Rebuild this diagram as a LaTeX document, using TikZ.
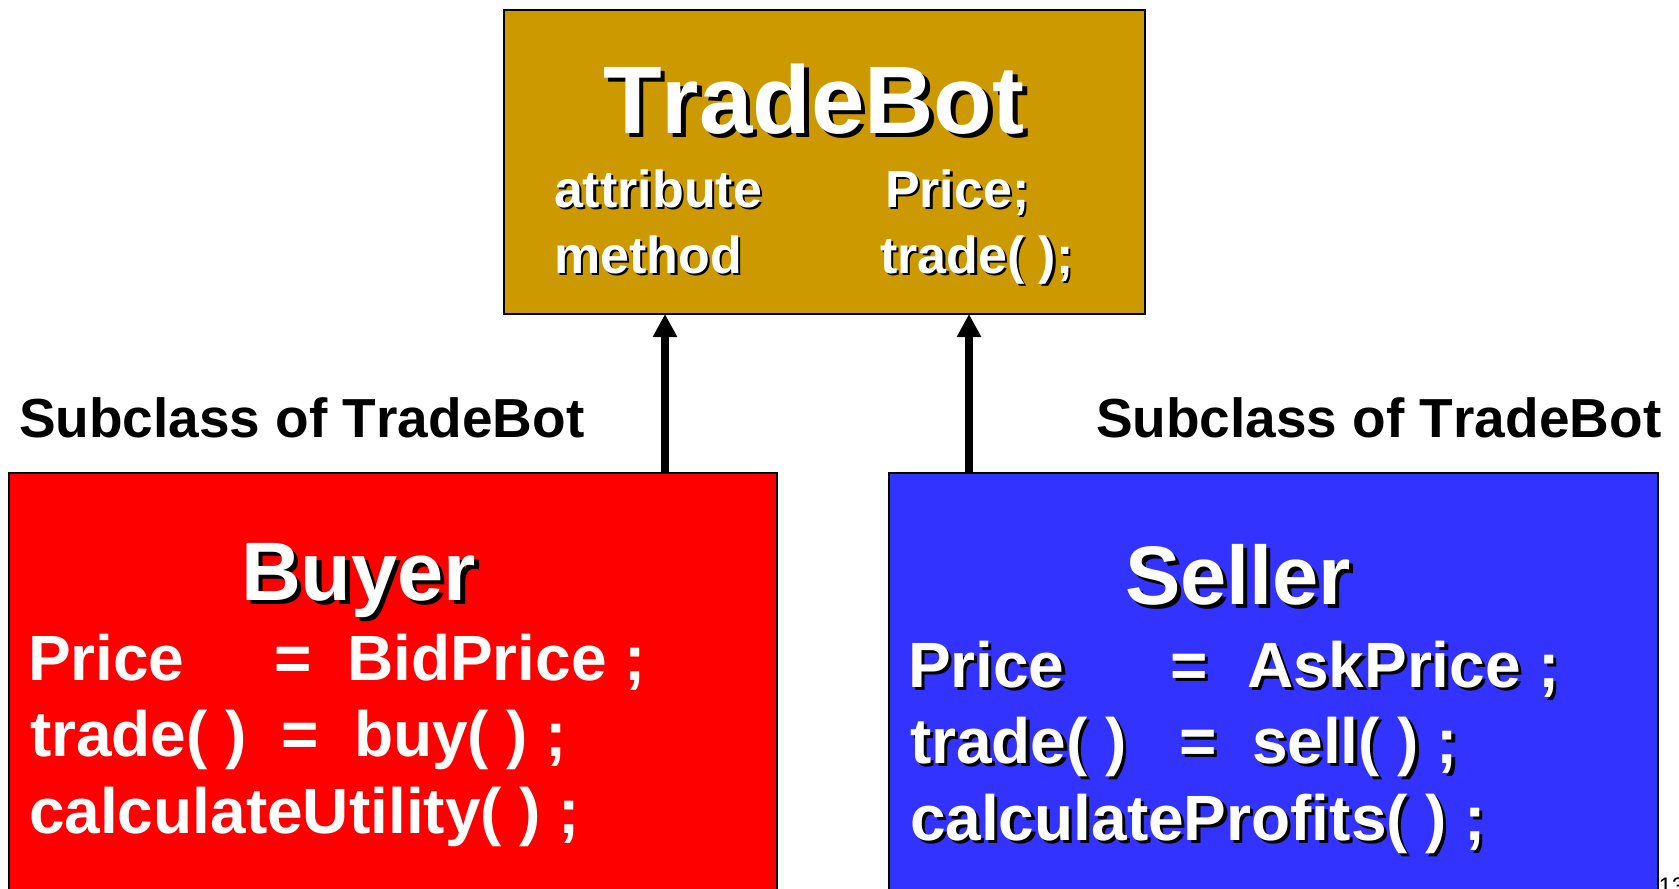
\documentclass[tikz,border=0pt]{standalone}
\usepackage{fontspec}
\setmainfont{Liberation Sans}[Kerning=Off]
\usetikzlibrary{arrows.meta}
\definecolor{botgold}{RGB}{204,153,0}
\definecolor{buyred}{RGB}{255,0,0}
\definecolor{sellblue}{RGB}{51,51,255}
% white text with a black drop shadow down and to the right
\newcommand{\shadowed}[1]{\makebox[0pt][l]{\hspace{0.05em}\raisebox{-0.05em}{\color{black}#1}}#1}
\begin{document}
\begin{tikzpicture}[x=0.4pt, y=-0.4pt,
  classbox/.style={draw=black, line width=0.8pt, inner sep=0pt, outer sep=0pt, anchor=north west},
  txt/.style={inner sep=0pt, outer sep=0pt, anchor=base west, text=white},
  bigtitle/.style={txt, font={\fontsize{38.4}{45}\selectfont\bfseries}},
  subtitle/.style={txt, font={\fontsize{33.2}{40}\selectfont\bfseries}},
  member/.style={txt, font={\fontsize{20.8}{25}\selectfont\bfseries}},
  bodyline/.style={txt, font={\fontsize{25.6}{30}\selectfont\bfseries}},
  sublabel/.style={inner sep=0pt, outer sep=0pt, anchor=base west, text=black,
                   font={\fontsize{22}{26}\selectfont\bfseries}},
  inherit/.style={line width=3.2pt, -{Triangle[width=9.2pt, length=9.2pt]}}]

\fill[white] (0,0) rectangle (1679,888);
\useasboundingbox (0,0) rectangle (1679,888);

% class boxes
\node[classbox, fill=botgold, minimum width=256.4pt, minimum height=121.6pt] (tradebot) at (504,10) {};
\node[classbox, fill=buyred, minimum width=307.2pt, minimum height=171pt] (buyer) at (9,473) {};
\node[classbox, fill=sellblue, minimum width=307.6pt, minimum height=171pt] (seller) at (889,473) {};

% base class
\node[bigtitle] (tbname) at (603,133) {\shadowed{TradeBot}};
\node[member] (attrkw) at (554,207) {\shadowed{attribute}};
\node[member] (attrval) at (885,207) {\shadowed{Price;}};
\node[member] (methkw) at (554,273) {\shadowed{method}};
\node[member] (methval) at (880,273) {\shadowed{trade( );}};

% buyer subclass
\node[subtitle] (buyname) at (241,600) {\shadowed{Buyer}};
\node[bodyline] (bprice) at (28,680) {Price};
\node[bodyline] (beq1) at (274,680) {=};
\node[bodyline] (bbid) at (347,680) {BidPrice ;};
\node[bodyline] (btrade) at (30,756) {trade( )};
\node[bodyline] (beq2) at (281,756) {=};
\node[bodyline] (bbuy) at (354,756) {buy( ) ;};
\node[bodyline] (butil) at (29,833) {calculateUtility( ) ;};

% seller subclass
\node[subtitle] (sellname) at (1125,604) {\shadowed{Seller}};
\node[bodyline] (sprice) at (908,687) {\shadowed{Price}};
\node[bodyline] (seq1) at (1170,687) {\shadowed{=}};
\node[bodyline] (sask) at (1247,687) {\shadowed{AskPrice ;}};
\node[bodyline] (strade) at (910,763) {\shadowed{trade( )}};
\node[bodyline] (seq2) at (1179,763) {\shadowed{=}};
\node[bodyline] (ssell) at (1252,763) {\shadowed{sell( ) ;}};
\node[bodyline] (sprof) at (910,840) {\shadowed{calculateProfits( ) ;}};

% labels
\node[sublabel] (lsub) at (19,437) {Subclass of TradeBot};
\node[sublabel] (rsub) at (1096,437) {Subclass of TradeBot};

% page number
\node[inner sep=0pt, anchor=base west, font={\fontsize{9.6}{11}\selectfont}] (pageno) at (1658,894) {13};

% inheritance arrows
\coordinate (lx) at (665,400);
\coordinate (rx) at (969,400);
\draw[inherit] (buyer.north -| lx) -- (tradebot.south -| lx);
\draw[inherit] (seller.north -| rx) -- (tradebot.south -| rx);
\end{tikzpicture}
\end{document}
